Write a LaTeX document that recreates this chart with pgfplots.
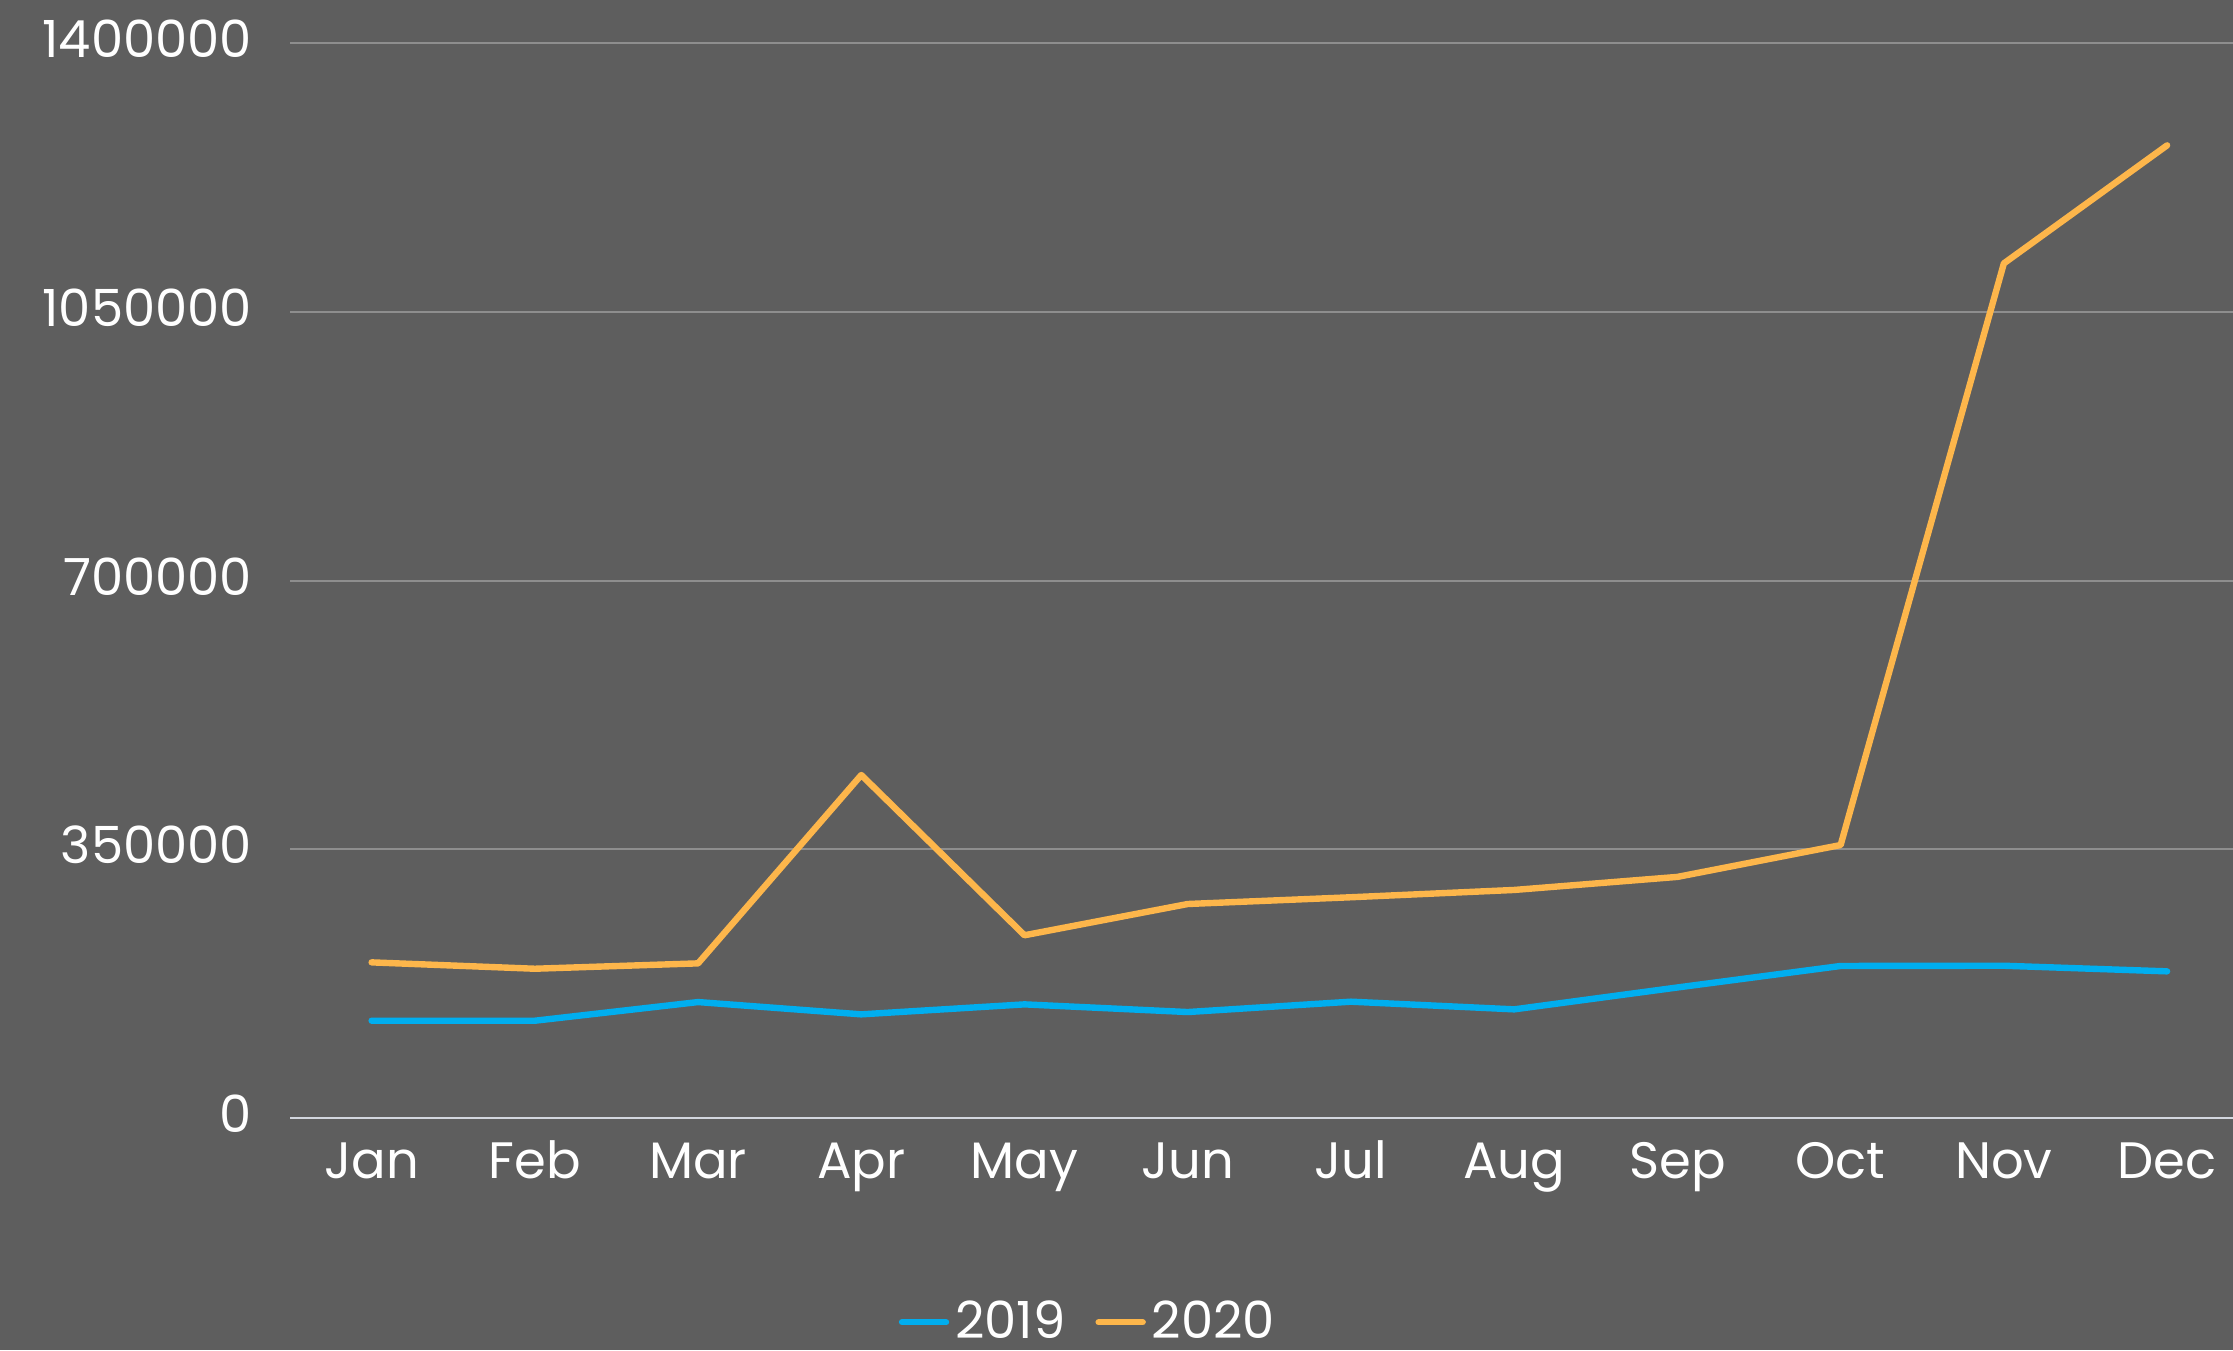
\documentclass[border=0pt]{standalone}
\usepackage{pgfplots}
\pgfplotsset{compat=1.18}
\usepackage{fontspec}
\setmainfont{Poppins}
\definecolor{bg}{HTML}{5E5E5E}
\definecolor{gridc}{HTML}{8E8E8E}
\definecolor{axc}{HTML}{D2D6DE}
\definecolor{c19}{HTML}{00AEEF}
\definecolor{c20}{HTML}{FDB64B}
\begin{document}
\begin{tikzpicture}
\fill[bg] (0,0) rectangle (558.25pt,337.5pt);
\useasboundingbox (0,0) rectangle (558.25pt,337.5pt);
\begin{axis}[
  at={(72.5pt,58pt)}, anchor=south west,
  scale only axis, width=485.75pt, height=268.75pt,
  xmin=-0.5, xmax=11.404, ymin=0, ymax=1400000,
  scaled y ticks=false,
  axis line style={draw=none},
  xtick={0,...,11},
  xticklabels={Jan,Feb,Mar,Apr,May,Jun,Jul,Aug,Sep,Oct,Nov,Dec},
  ytick={0,350000,700000,1050000,1400000},
  yticklabels={0,350000,700000,1050000,1400000},
  ymajorgrids, grid style={gridc, line width=0.5pt},
  major tick length=0pt,
  tick style={draw=none},
  tick label style={font=\fontsize{12.8}{14}\selectfont, text=white},
  xticklabel style={anchor=north, text height=9.2pt, text depth=2.5pt, yshift=-2.3pt},
  yticklabel style={xshift=-6pt, yshift=1pt},
  /pgf/number format/assume math mode=true,
  clip=false,
  legend style={at={(axis description cs:0.4117,-0.19)}, anchor=center,
    draw=none, fill=none, text=white, font=\fontsize{12.8}{14}\selectfont,
    legend columns=2, column sep=0pt,
    nodes={inner xsep=1.5pt},
    /tikz/every even column/.append style={column sep=6pt}},
  legend image code/.code={\draw[#1, line width=1.6pt, line cap=round] (0pt,0pt) -- (11pt,0pt);},
  legend cell align=left,
]
\draw[axc, line width=0.6pt] (axis cs:-0.5,0) -- (axis cs:11.404,0);
\addplot[c19, line width=1.6pt, line cap=round, line join=round] coordinates {
(0,126700) (1,126700) (2,151000) (3,135000) (4,148000) (5,138000)
(6,151500) (7,141500) (8,170000) (9,198000) (10,198300) (11,191000)};
\addlegendentry{2019}
\addplot[c20, line width=1.6pt, line cap=round, line join=round] coordinates {
(0,202700) (1,194400) (2,201400) (3,446700) (4,238000) (5,278700)
(6,287500) (7,297000) (8,314000) (9,355500) (10,1113000) (11,1266700)};
\addlegendentry{2020}
\end{axis}
\end{tikzpicture}
\end{document}
